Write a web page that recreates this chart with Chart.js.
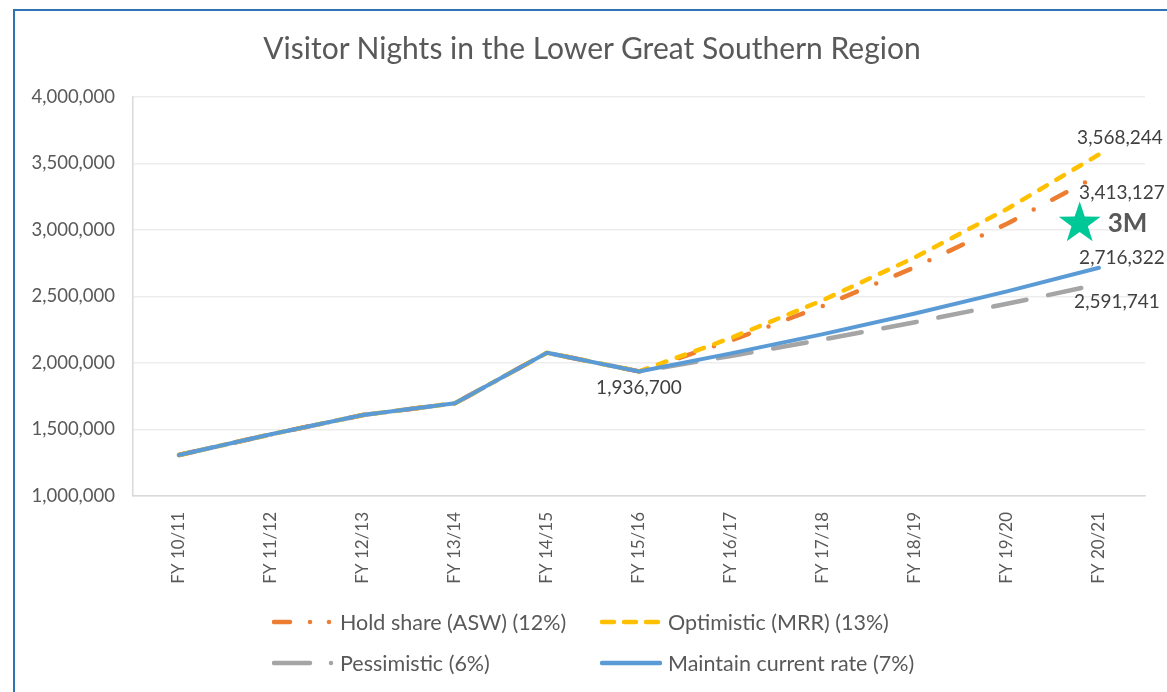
<!DOCTYPE html>
<html>
<head>
<meta charset="utf-8">
<title>Visitor Nights in the Lower Great Southern Region</title>
<script src="https://cdn.jsdelivr.net/npm/chart.js@4.4.0/dist/chart.umd.min.js"></script>
<style>
  html, body { margin: 0; padding: 0; background: #fff; }
  #wrap { position: relative; width: 1167px; height: 692px; overflow: hidden; font-family: Lato, sans-serif; }
  #chart { position: absolute; left: 0; top: 0; }
  #frame { position: absolute; left: 13px; top: 9px; width: 1200px; height: 720px; border: 2px solid #2E74B5; pointer-events: none; }
  #title { position: absolute; left: 0; width: 1184px; top: 29px; line-height: 36px; text-align: center; font-size: 30px; color: #595959; white-space: nowrap; }
  .item { position: absolute; height: 26px; display: flex; align-items: center; font-size: 21.5px; color: #595959; white-space: nowrap; }
  .item svg { margin-right: 6px; }
</style>
</head>
<body>
<div id="wrap">
  <canvas id="chart" width="1167" height="692"></canvas>
  <div id="title">Visitor Nights in the Lower Great Southern Region</div>
  <div id="legend"></div>
  <div id="frame"></div>
</div>
<script>
const years = ['FY 10/11', 'FY 11/12', 'FY 12/13', 'FY 13/14', 'FY 14/15', 'FY 15/16',
  'FY 16/17', 'FY 17/18', 'FY 18/19', 'FY 19/20', 'FY 20/21'];

// actual visitor nights up to FY 15/16
const history = [1308000, 1464000, 1609000, 1697000, 2077000, 1936700];

// projections FY 16/17 .. FY 20/21
const holdShare = [2169104, 2429396, 2720924, 3047435, 3413127];
const optimistic = [2188471, 2472972, 2794459, 3157738, 3568244];
const pessimistic = [2052902, 2176076, 2306641, 2445039, 2591741];
const currentRate = [2072269, 2217328, 2372541, 2538619, 2716322];

const yTicks = [1000000, 1500000, 2000000, 2500000, 3000000, 3500000, 4000000];

const target = { label: '3M', x: 9.79, y: 3060000 };

const fmt = v => v.toLocaleString('en-US');

const series = [
  { label: 'Hold share (ASW) (12%)', data: holdShare, color: '#ED7D31', dash: [16, 21, 0, 21], width: 4.5, order: 2,
    note: { dx: 23, dy: 18 }, legend: { x: 272, y: 622, dash: '16 20 0 19 0 100' } },
  { label: 'Optimistic (MRR) (13%)', data: optimistic, color: '#FFC000', dash: [9, 11], width: 4.5, order: 1,
    note: { dx: 21, dy: -17 }, legend: { x: 600, y: 622, dash: '12 10' } },
  { label: 'Pessimistic (6%)', data: pessimistic, color: '#A5A5A5', dash: [34, 22], width: 4.5, order: 3,
    note: { dx: 18, dy: 18 }, legend: { x: 272, y: 663, dash: '36 21 0 100' } },
  { label: 'Maintain current rate (7%)', data: currentRate, color: '#5B9BD5', dash: [], width: 4, order: 0,
    note: { dx: 23, dy: -10 }, legend: { x: 600, y: 663, dash: 'none' } }
];

// value labels, star marker and target text
const annotate = {
  id: 'annotate',
  afterDatasetsDraw(chart) {
    const ctx = chart.ctx;
    const xs = chart.scales.x, ys = chart.scales.y;
    ctx.save();
    ctx.font = '19px Lato';
    ctx.fillStyle = '#404040';
    ctx.textAlign = 'center';
    ctx.textBaseline = 'middle';
    chart.data.datasets.forEach((ds, i) => {
      const last = ds.data.length - 1;
      const n = series[i].note;
      ctx.fillText(fmt(ds.data[last]), xs.getPixelForValue(last) + n.dx, ys.getPixelForValue(ds.data[last]) + n.dy);
    });
    const k = history.length - 1;
    ctx.fillText(fmt(history[k]), xs.getPixelForValue(k), ys.getPixelForValue(history[k]) + 16);

    // star
    const cx = xs.getPixelForValue(target.x), cy = ys.getPixelForValue(target.y);
    const R = 22, r = 8.6;
    ctx.beginPath();
    for (let j = 0; j < 10; j++) {
      const rad = j % 2 ? r : R;
      const a = -Math.PI / 2 + j * Math.PI / 5;
      const px = cx + rad * Math.cos(a), py = cy + 1.5 + rad * Math.sin(a);
      j ? ctx.lineTo(px, py) : ctx.moveTo(px, py);
    }
    ctx.closePath();
    ctx.fillStyle = '#00C896';
    ctx.fill();

    ctx.font = 'bold 26px Lato';
    ctx.fillStyle = '#595959';
    ctx.textAlign = 'left';
    ctx.fillText(target.label, cx + 28, cy + 2);
    ctx.restore();
  }
};

new Chart(document.getElementById('chart'), {
  type: 'line',
  data: {
    labels: years,
    datasets: series.map(s => ({
      label: s.label,
      data: history.concat(s.data),
      borderColor: s.color,
      backgroundColor: s.color,
      borderWidth: s.width,
      borderDash: s.dash,
      borderCapStyle: 'round',
      borderJoinStyle: 'round',
      pointRadius: 0,
      tension: 0,
      order: s.order
    }))
  },
  options: {
    responsive: false,
    animation: false,
    // room for the title above and the legend below
    layout: { padding: { top: 97, right: 22, left: 0, bottom: 0 } },
    plugins: {
      legend: { display: false },
      tooltip: { enabled: false },
      title: { display: false }
    },
    scales: {
      x: {
        offset: true,
        grid: { display: false, drawTicks: false, offset: true },
        border: { color: '#D9D9D9', width: 1.5 },
        ticks: { color: '#595959', font: { family: 'Lato', size: 17 }, maxRotation: 90, minRotation: 90, padding: 16, autoSkip: false },
        afterFit(scale) { scale.height = 196; }
      },
      y: {
        min: 1000000,
        max: 4000000,
        grid: { color: '#EDEDED', lineWidth: 1.5, drawTicks: false },
        border: { color: '#D9D9D9', width: 1.5 },
        afterBuildTicks(scale) { scale.ticks = yTicks.map(v => ({ value: v })); },
        ticks: { color: '#595959', font: { family: 'Lato', size: 18.5 }, padding: 18, callback: v => fmt(v) },
        afterFit(scale) { scale.width = 133; }
      }
    }
  },
  plugins: [annotate]
});

// legend with the same line patterns
const legend = document.getElementById('legend');
series.forEach(s => {
  const el = document.createElement('div');
  el.className = 'item';
  el.style.left = s.legend.x + 'px';
  el.style.top = (s.legend.y - 13) + 'px';
  el.innerHTML = '<svg width="62" height="10"><line x1="2" y1="5" x2="60" y2="5" stroke="' + s.color +
    '" stroke-width="4.5" stroke-linecap="round" stroke-dasharray="' + s.legend.dash + '"/></svg>';
  el.appendChild(document.createTextNode(s.label));
  legend.appendChild(el);
});
</script>
</body>
</html>
